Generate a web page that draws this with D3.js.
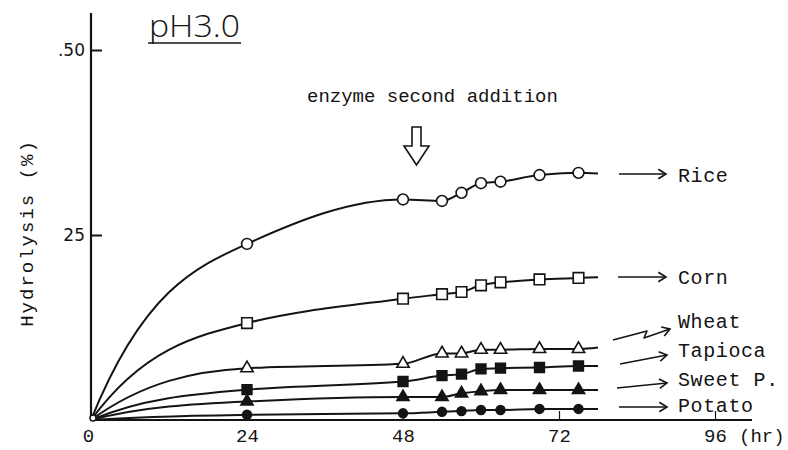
<!DOCTYPE html>
<html>
<head>
<meta charset="utf-8">
<script src="https://cdn.jsdelivr.net/npm/d3@7"></script>
<style>
  html, body { margin: 0; padding: 0; background: #fff; }
  svg { display: block; }
</style>
</head>
<body>
<svg id="chart" width="788" height="450"></svg>
<script>
// Sampling times (hr) and hydrolysis (%) for each starch source at pH 3.0
const hours = [0, 24, 48, 54, 57, 60, 63, 69, 75];
const tailHour = 78;
const rice        = [0, 23.8, 29.8, 29.6, 30.7, 32.0, 32.2, 33.1, 33.4];
const corn        = [0, 13.1, 16.4, 17.0, 17.3, 18.2, 18.6, 19.0, 19.2];
const wheat       = [0, 7.0, 7.6, 9.0, 9.0, 9.5, 9.5, 9.6, 9.6];
const tapioca     = [0, 4.1, 5.2, 6.0, 6.2, 6.9, 7.0, 7.1, 7.3];
const sweetPotato = [0, 2.5, 3.1, 3.1, 3.6, 3.9, 4.05, 4.05, 4.05];
const potato      = [0, 0.7, 0.9, 1.1, 1.2, 1.35, 1.35, 1.5, 1.5];
const tailValues  = [33.3, 19.3, 9.8, 7.3, 4.05, 1.5];
const seriesNames = ["Rice", "Corn", "Wheat", "Tapioca", "Sweet P.", "Potato"];
const xTicks = [0, 24, 48, 72, 96];
const xTickLabels = ["0", "24", "48", "72", "96"];
const yTicks = [25, 50];
const yTickLabels = ["25", ".50"];
const additionHour = 50;

const ink = "#141414";
const svg = d3.select("#chart");

const x = d3.scaleLinear().domain([0, 96]).range([91, 715]);
const y = d3.scaleLinear().domain([0, 50]).range([420, 50]);

// Monotone cubic curve (harmonic-mean tangents) whose first tangent is
// steeper, so each hydrolysis curve rises quickly from the origin and levels off.
function curveSaturating(context) {
  return {
    areaStart() {}, areaEnd() {},
    lineStart() { this._px = []; this._py = []; },
    point(px, py) { this._px.push(+px); this._py.push(+py); },
    lineEnd() {
      const X = this._px, Y = this._py, n = X.length;
      if (!n) return;
      context.moveTo(X[0], Y[0]);
      if (n === 1) return;
      const s = [];
      for (let i = 0; i < n - 1; i++) s.push((Y[i + 1] - Y[i]) / (X[i + 1] - X[i]));
      const t = new Array(n);
      for (let i = 1; i < n - 1; i++) {
        const s0 = s[i - 1], s1 = s[i];
        t[i] = s0 * s1 <= 0 ? 0 : 2 * s0 * s1 / (s0 + s1);
      }
      t[0] = n > 2 ? 2.2 * s[0] : s[0];
      t[n - 1] = n > 2 ? (3 * s[n - 2] - t[n - 2]) / 2 : s[0];
      for (let i = 0; i < n - 1; i++) {
        const dx = (X[i + 1] - X[i]) / 3;
        context.bezierCurveTo(
          X[i] + dx, Y[i] + dx * t[i],
          X[i + 1] - dx, Y[i + 1] - dx * t[i + 1],
          X[i + 1], Y[i + 1]);
      }
    }
  };
}

// marker style per series: symbol type, filled or hollow, symbol area
const markerStyles = [
  { type: d3.symbolCircle,   filled: false, size: 92 },
  { type: d3.symbolSquare,   filled: false, size: 112 },
  { type: d3.symbolTriangle, filled: false, size: 66 },
  { type: d3.symbolSquare,   filled: true,  size: 95 },
  { type: d3.symbolTriangle, filled: true,  size: 64 },
  { type: d3.symbolCircle,   filled: true,  size: 62 }
];
const seriesValues = [rice, corn, wheat, tapioca, sweetPotato, potato];

// axes
svg.append("line")
  .attr("x1", x(0)).attr("x2", x(0))
  .attr("y1", y(0)).attr("y2", 13)
  .attr("stroke", ink).attr("stroke-width", 2.2);
svg.append("line")
  .attr("x1", x(0) - 1).attr("x2", 752)
  .attr("y1", y(0)).attr("y2", y(0))
  .attr("stroke", ink).attr("stroke-width", 2.2);

const yAxis = d3.axisLeft(y)
  .tickValues(yTicks)
  .tickFormat((d, i) => yTickLabels[i])
  .tickSizeInner(-11).tickSizeOuter(0).tickPadding(6);
const gy = svg.append("g").attr("transform", `translate(${x(0)},0)`).call(yAxis);
gy.select(".domain").remove();
gy.selectAll(".tick line").attr("stroke", ink).attr("stroke-width", 2);
gy.selectAll(".tick text")
  .attr("fill", ink)
  .style("font-family", "'DejaVu Sans', sans-serif")
  .style("font-size", "17px");

const xAxis = d3.axisBottom(x)
  .tickValues(xTicks)
  .tickFormat((d, i) => xTickLabels[i])
  .tickSizeInner(-9).tickSizeOuter(0).tickPadding(8.5);
const gx = svg.append("g").attr("transform", `translate(0,${y(0)})`).call(xAxis);
gx.select(".domain").remove();
gx.selectAll(".tick line").attr("stroke", ink).attr("stroke-width", 1.2);
gx.selectAll(".tick").filter(d => d === 0).select("line").remove();
gx.selectAll(".tick text")
  .attr("fill", ink)
  .style("font-family", "'Liberation Mono', monospace")
  .style("font-size", "19px");
gx.selectAll(".tick").filter(d => d === 0).select("text").attr("x", -3);

svg.append("text")
  .attr("x", x(96) + 24).attr("y", 442)
  .attr("fill", ink)
  .style("font-family", "'Liberation Mono', monospace")
  .style("font-size", "19px")
  .text("(hr)");

// axis title
svg.append("text")
  .attr("transform", "translate(33,233) rotate(-90)")
  .attr("text-anchor", "middle")
  .attr("fill", ink)
  .style("font-family", "'Liberation Mono', monospace")
  .style("font-size", "19px")
  .style("letter-spacing", "2px")
  .text("Hydrolysis (%)");

// heading
svg.append("text")
  .attr("x", 149).attr("y", 37)
  .attr("fill", ink)
  .attr("textLength", 91).attr("lengthAdjust", "spacingAndGlyphs")
  .style("font-family", "'Open Sans', sans-serif")
  .style("font-weight", 300)
  .style("font-size", "31px")
  .text("pH3.0");
svg.append("line")
  .attr("x1", 148).attr("x2", 241).attr("y1", 43).attr("y2", 43)
  .attr("stroke", ink).attr("stroke-width", 1.6);

// enzyme second addition note and hollow arrow
svg.append("text")
  .attr("x", 307).attr("y", 102)
  .attr("fill", ink)
  .style("font-family", "'Liberation Mono', monospace")
  .style("font-size", "19px")
  .text("enzyme second addition");

const ax = x(additionHour) + 0.5;
svg.append("path")
  .attr("d", `M${ax - 4.5},127 L${ax + 4.5},127 L${ax + 4.5},146 L${ax + 12.5},146 L${ax},165 L${ax - 12.5},146 L${ax - 4.5},146 Z`)
  .attr("fill", "#fff").attr("stroke", ink).attr("stroke-width", 1.6)
  .attr("stroke-linejoin", "miter");

// curves
const line = d3.line()
  .x(d => x(d[0]))
  .y(d => y(d[1]))
  .curve(curveSaturating);

seriesValues.forEach((vals, si) => {
  const pts = hours.map((h, i) => [h, vals[i]]);
  pts.push([tailHour, tailValues[si]]);
  svg.append("path")
    .datum(pts)
    .attr("d", line)
    .attr("fill", "none")
    .attr("stroke", ink)
    .attr("stroke-width", 2);
});

// markers (none at the origin)
seriesValues.forEach((vals, si) => {
  const st = markerStyles[si];
  const sym = d3.symbol().type(st.type).size(st.size);
  svg.append("g").selectAll("path")
    .data(hours.map((h, i) => [h, vals[i]]).filter(d => d[0] > 0))
    .join("path")
    .attr("transform", d => `translate(${x(d[0])},${y(d[1])})`)
    .attr("d", sym)
    .attr("fill", st.filled ? ink : "#fff")
    .attr("stroke", ink)
    .attr("stroke-width", 1.6);
});

// common starting point
svg.append("circle")
  .attr("cx", x(0) + 2).attr("cy", y(0) - 2).attr("r", 3)
  .attr("fill", "#fff").attr("stroke", ink).attr("stroke-width", 1.4);

// series labels with pointer arrows
const labelLayout = [
  { ty: 182, pts: [[619, 174], [666, 174]] },
  { ty: 284, pts: [[618, 277], [666, 277]] },
  { ty: 328, pts: [[613, 340], [647, 331], [644, 338], [670, 329]] },
  { ty: 357, pts: [[620, 364], [667, 355]] },
  { ty: 386, pts: [[617, 388], [667, 383]] },
  { ty: 412, pts: [[619, 407], [667, 407]] }
];

labelLayout.forEach((lab, i) => {
  const p = lab.pts;
  svg.append("path")
    .attr("d", d3.line()(p))
    .attr("fill", "none").attr("stroke", ink).attr("stroke-width", 1.6)
    .attr("stroke-linejoin", "round");
  const [x1, y1] = p[p.length - 2];
  const [x2, y2] = p[p.length - 1];
  const ang = Math.atan2(y2 - y1, x2 - x1);
  const len = 9, spread = 0.55;
  const h1 = [x2 - len * Math.cos(ang - spread), y2 - len * Math.sin(ang - spread)];
  const h2 = [x2 - len * Math.cos(ang + spread), y2 - len * Math.sin(ang + spread)];
  svg.append("path")
    .attr("d", `M${h1[0]},${h1[1]} L${x2},${y2} L${h2[0]},${h2[1]}`)
    .attr("fill", "none").attr("stroke", ink).attr("stroke-width", 1.6);
  svg.append("text")
    .attr("x", 678).attr("y", lab.ty)
    .attr("fill", ink)
    .style("font-family", "'Liberation Mono', monospace")
    .style("font-size", "20px")
    .style("letter-spacing", "0.6px")
    .text(seriesNames[i]);
});
</script>
</body>
</html>
